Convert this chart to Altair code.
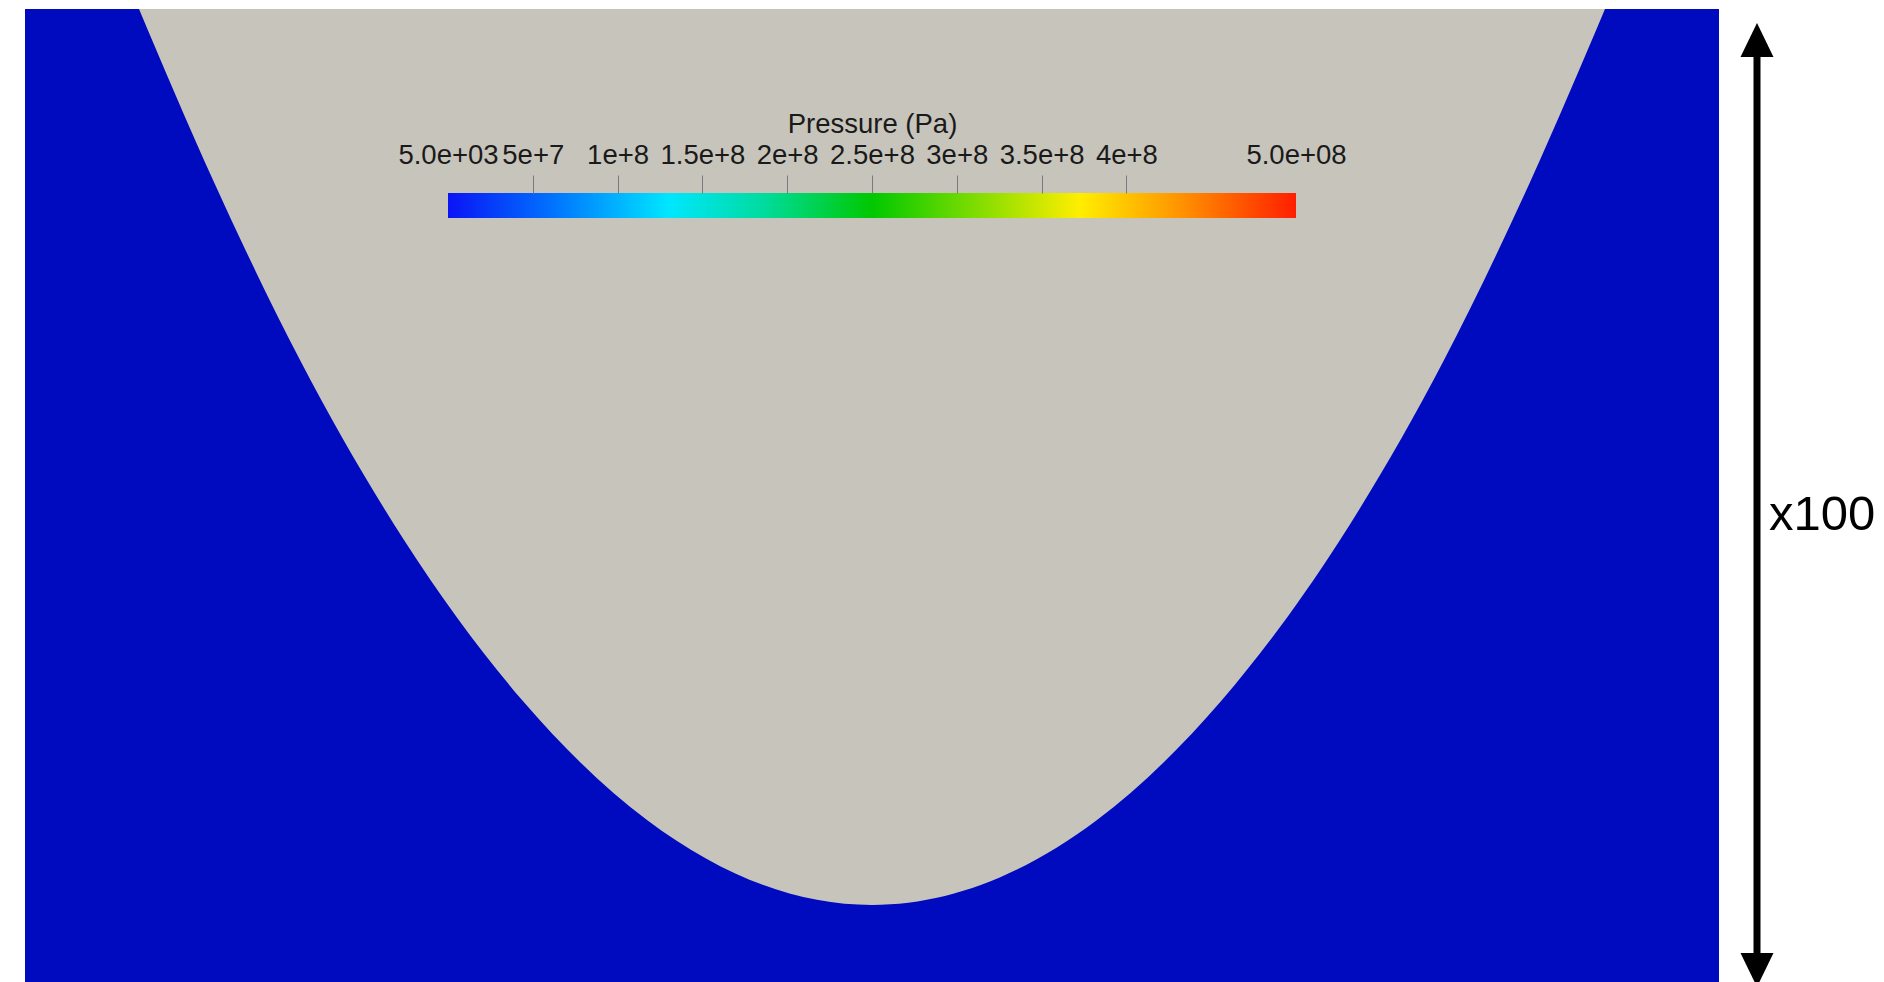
import json
import altair as alt
import pandas as pd

# ---- data -----------------------------------------------------------------
# interface between the two media (x across the domain, h = height above base)
boundary_x = [114, 188, 275, 379, 497, 622, 847, 1072, 1197, 1315, 1419, 1506, 1580]
boundary_h = [1000, 829, 649, 469, 309, 189, 104, 189, 309, 469, 649, 829, 1000]

# colour bar
p_min, p_max = 5.0e3, 5.0e8
tick_values = [5.0e3, 5e7, 1e8, 1.5e8, 2e8, 2.5e8, 3e8, 3.5e8, 4e8, 5.0e8]
tick_labels = ["5.0e+03", "5e+7", "1e+8", "1.5e+8", "2e+8", "2.5e+8",
               "3e+8", "3.5e+8", "4e+8", "5.0e+08"]
cmap_offsets = [0.0, 0.13, 0.26, 0.37, 0.50, 0.62, 0.745, 0.86, 1.0]
cmap_colors = ["#0a14f5", "#0078ff", "#00e6ff", "#00dca0", "#00c800",
               "#7ddc00", "#ffee00", "#ff9600", "#ff1e00"]

scale_label = ["x100"]

# ---- chart ---------------------------------------------------------------
W, H = 1694, 1000
FONT = "Liberation Sans"

df_b = pd.DataFrame({"x": boundary_x, "h": boundary_h})
df_cb = pd.DataFrame({"pmin": [p_min], "pmax": [p_max]})
df_s = pd.DataFrame({"label": scale_label})

interface = alt.Chart(df_b).mark_area(
    color="#c7c4bc", interpolate="monotone", clip=True
).encode(
    x=alt.X("x:Q", scale=alt.Scale(domain=[0, W], nice=False, zero=False), axis=None),
    y=alt.Y("h:Q", scale=alt.Scale(domain=[0, H], nice=False, zero=False), axis=None),
    y2=alt.datum(H),
)

label_expr = "{}[indexof({}, datum.value)]".format(
    json.dumps(tick_labels), json.dumps(tick_values)
)
end_test = "datum.value == {} || datum.value == {}".format(p_min, p_max)

gradient = alt.LinearGradient(
    gradient="linear",
    stops=[alt.GradientStop(color=c, offset=o) for o, c in zip(cmap_offsets, cmap_colors)],
    x1=0, x2=1, y1=0, y2=0,
)

colorbar = alt.Chart(df_cb).mark_rect(fill=gradient).encode(
    x=alt.X(
        "pmin:Q",
        scale=alt.Scale(domain=[p_min, p_max], range=[423, 1271], nice=False, zero=False),
        axis=alt.Axis(
            orient="top", offset=-184, values=tick_values, labelExpr=label_expr,
            labelOverlap=False, labelFlush=False, domain=False, grid=False,
            tickSize=18, tickColor="#7a7a7a", tickWidth=1,
            tickOpacity={"condition": {"test": end_test, "value": 0}, "value": 1},
            labelFont=FONT, labelFontSize=27.5, labelColor="#1a1a1a",
            labelBaseline="alphabetic", labelPadding=12,
            title="Pressure (Pa)", titleFont=FONT, titleFontSize=27.5,
            titleFontWeight="normal", titleColor="#1a1a1a",
            titleBaseline="alphabetic", titleY=-61, zindex=2,
        ),
    ),
    x2="pmax:Q",
    y=alt.value(184),
    y2=alt.value(209),
)

shaft = alt.Chart(df_s).mark_rule(color="black", strokeWidth=7).encode(
    x=alt.value(1732), y=alt.value(30), y2=alt.value(960)
)
head_up = alt.Chart(df_s).mark_point(
    shape="M0,-1L0.97,1L-0.97,1Z", size=1156, filled=True, color="black", opacity=1
).encode(x=alt.value(1732), y=alt.value(31))
head_down = alt.Chart(df_s).mark_point(
    shape="M0,1L0.97,-1L-0.97,-1Z", size=1156, filled=True, color="black", opacity=1
).encode(x=alt.value(1732), y=alt.value(961))
scale_text = alt.Chart(df_s).mark_text(
    font=FONT, fontSize=49, align="left", baseline="alphabetic", color="black",
).encode(x=alt.value(1744), y=alt.value(521), text="label:N")

chart = alt.layer(
    interface, colorbar, shaft, head_up, head_down, scale_text
).resolve_scale(x="independent").properties(
    width=W, height=H,
    padding={"left": 17, "top": 1, "right": 157, "bottom": 0},
    autosize=alt.AutoSizeParams(type="none"),
).configure_view(fill="#000abf", strokeWidth=0)

chart.save("out.html", embed_options={"renderer": "svg", "actions": False})
